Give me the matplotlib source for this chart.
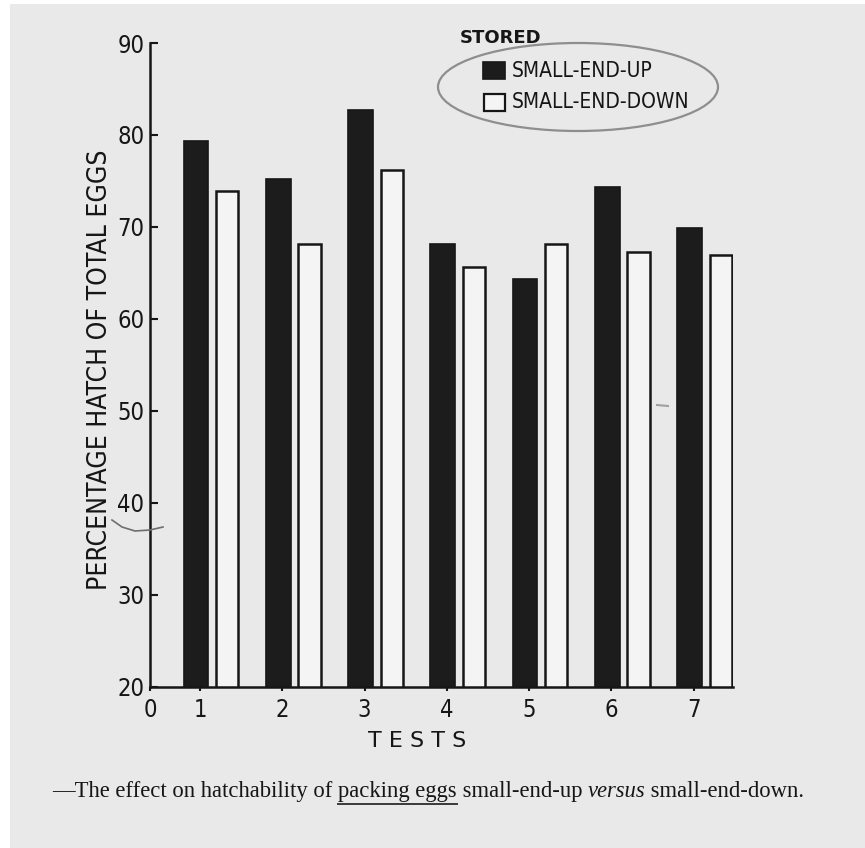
import numpy as np
import matplotlib
matplotlib.use("Agg")
import matplotlib.pyplot as plt
from matplotlib.patches import Rectangle, Ellipse
from matplotlib.lines import Line2D

# data
tests = [1, 2, 3, 4, 5, 6, 7]
small_end_up = [79.3, 75.2, 82.7, 68.2, 64.3, 74.3, 69.9]
small_end_down = [73.9, 68.2, 76.2, 65.7, 68.1, 67.3, 67.0]
y_ticks = [20, 30, 40, 50, 60, 70, 80, 90]
x_tick_labels = ["0", "1", "2", "3", "4", "5", "6", "7"]

caption_parts = [
    ("\u2014The effect on hatchability of ", "normal"),
    ("packing eggs", "normal"),
    (" small-end-up ", "normal"),
    ("versus", "italic"),
    (" small-end-down.", "normal"),
]

W, H = 865, 848
paper = "#e9e9e9"
ink = "#161616"
sans = "DejaVu Sans"


def fx(x):
    return x / W


def fy(y):
    return 1 - y / H


fig = plt.figure(figsize=(W / 100, H / 100), dpi=100, facecolor="white")
fig.patches.append(Rectangle((fx(10), 0), 1, fy(4), transform=fig.transFigure,
                             facecolor=paper, edgecolor="none", zorder=-10))

ax = fig.add_axes([fx(150), fy(687), fx(583), 644 / H])
ax.set_facecolor("none")

x = np.array(tests, dtype=float)
ax.bar(x - 0.05, small_end_up, width=0.30, color="#1c1c1c", edgecolor=ink,
       linewidth=1.2, zorder=2)
ax.bar(x + 0.33, small_end_down, width=0.27, color="#f4f4f4", edgecolor=ink,
       linewidth=1.8, zorder=2)

x0 = 0.39
ax.set_xlim(x0, 7.48)
ax.set_ylim(20, 90)
for s in ["top", "right"]:
    ax.spines[s].set_visible(False)
ax.spines["left"].set_linewidth(1.8)
ax.spines["bottom"].set_linewidth(1.8)
ax.spines["left"].set_color(ink)
ax.spines["bottom"].set_color(ink)

ax.set_yticks(y_ticks)
ax.set_yticklabels([str(v) for v in y_ticks])
ax.tick_params(axis="y", direction="in", length=6, width=1.5, pad=4,
               labelsize=17, colors=ink)
ax.set_xticks([x0] + tests)
ax.set_xticklabels(x_tick_labels)
ax.tick_params(axis="x", direction="out", length=3, width=1.5, pad=5,
               labelsize=17, colors=ink)
for lab in ax.get_xticklabels() + ax.get_yticklabels():
    lab.set_family(sans)
    lab.set_stretch("condensed")

fig.text(fx(100), fy(370), "PERCENTAGE HATCH OF TOTAL EGGS", rotation=90,
         ha="center", va="center", fontsize=19, family=sans,
         stretch="condensed", color=ink)
fig.text(fx(417), fy(741), "T E S T S", ha="center", va="center",
         fontsize=16, family=sans, color=ink)

# legend block with the pencil ring round it
fig.text(fx(460), fy(38), "STORED", ha="left", va="center", fontsize=13,
         family=sans, weight="bold", color=ink)
fig.patches.append(Rectangle((fx(483), fy(79)), fx(22), 17 / H,
                             transform=fig.transFigure, facecolor="#1c1c1c",
                             edgecolor=ink, lw=1.2))
fig.patches.append(Rectangle((fx(484), fy(111)), fx(21), 17 / H,
                             transform=fig.transFigure, facecolor="#f4f4f4",
                             edgecolor=ink, lw=1.6))
fig.text(fx(512), fy(71), "SMALL-END-UP", ha="left", va="center",
         fontsize=15, family=sans, stretch="condensed", color=ink)
fig.text(fx(512), fy(102), "SMALL-END-DOWN", ha="left", va="center",
         fontsize=15, family=sans, stretch="condensed", color=ink)
fig.patches.append(Ellipse((fx(578), fy(87)), fx(280), 88 / H,
                           transform=fig.transFigure, fill=False,
                           edgecolor="#8e8e8e", lw=1.6))

# pencil marks
fig.add_artist(Line2D([fx(v) for v in [112, 122, 135, 150, 163]],
                      [fy(v) for v in [520, 527, 531, 530, 527]],
                      transform=fig.transFigure, color="#6e6e6e", lw=1.2))
fig.add_artist(Line2D([fx(657), fx(668)], [fy(405), fy(406)],
                      transform=fig.transFigure, color="#a0a0a0", lw=1.5))

# caption, pieced together so one word can be italic and two underlined
renderer = fig.canvas.get_renderer()
cx = 52
for i, (txt, style) in enumerate(caption_parts):
    t = fig.text(fx(cx), fy(797), txt, fontsize=16.3, family="Liberation Serif",
                 style=style, va="baseline", ha="left", color=ink)
    bb = t.get_window_extent(renderer)
    if i == 1:
        fig.add_artist(Line2D([bb.x0 / W, bb.x1 / W], [fy(804), fy(804)],
                              transform=fig.transFigure, color="#3a3a3a",
                              lw=1.4))
    cx += bb.width

fig.savefig("out.png", dpi=100, facecolor=fig.get_facecolor())
